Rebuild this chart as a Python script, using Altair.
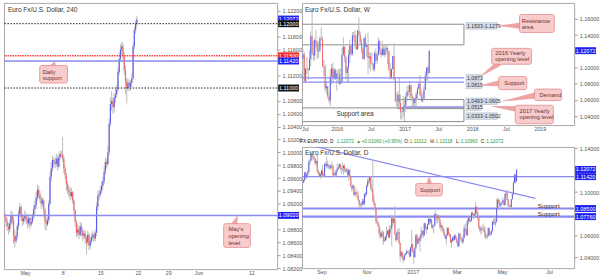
import altair as alt
import pandas as pd

FONT = "Liberation Sans"
BLUE = "#5d5df0"
RED = "#f06a6a"
WICK = "#bcbcbc"
LINE_BLUE = "#8a8af2"
TAG_BLUE = "#2020f0"
TAG_RED = "#f52525"
TAG_BLACK = "#111111"
CALLOUT_FILL = "#f8cccc"
CALLOUT_STROKE = "#e38c8c"
CALLOUT_TEXT = "#6e2e2e"
RANGE_FILL = "#d6dee8"

LW, LH = 275, 268
RW, RH1, RH2 = 274, 123, 122

# ---------------- 4h data (Apr 26 - May 19 2017, 6 candles / day) ----------------
h4_first_open = 1.0925
h4_close = [
    1.0915, 1.0905, 1.0898, 1.0892, 1.0885, 1.0880,
    1.0890, 1.0902, 1.0895, 1.0870, 1.0862, 1.0870,
    1.0885, 1.0905, 1.0915, 1.0900, 1.0893, 1.0897,
    1.0902, 1.0895, 1.0890, 1.0898, 1.0888, 1.0892,
    1.0900, 1.0912, 1.0918, 1.0930, 1.0942, 1.0935,
    1.0928, 1.0920, 1.0925, 1.0910, 1.0892, 1.0888,
    1.0895, 1.0920, 1.0962, 1.0975, 1.0988, 1.0985,
    1.0982, 1.0990, 1.0978, 1.0992, 1.0998, 1.0998,
    1.0990, 1.0975, 1.0965, 1.0950, 1.0942, 1.0938,
    1.0932, 1.0938, 1.0925, 1.0910, 1.0892, 1.0875,
    1.0880, 1.0872, 1.0885, 1.0878, 1.0870, 1.0874,
    1.0866, 1.0860, 1.0872, 1.0855, 1.0862, 1.0868,
    1.0872, 1.0866, 1.0875, 1.0915, 1.0932, 1.0935,
    1.0940, 1.0948, 1.0955, 1.0970, 1.0985, 1.0982,
    1.1000, 1.1045, 1.1075, 1.1080, 1.1070, 1.1085,
    1.1090, 1.1098, 1.1125, 1.1145, 1.1160, 1.1165,
    1.1150, 1.1128, 1.1110, 1.1100, 1.1108, 1.1102,
    1.1108, 1.1115, 1.1165, 1.1190, 1.1200, 1.1207,
]
h4_high = [
    1.0930, 1.0920, 1.0910, 1.0902, 1.0898, 1.0890,
    1.0895, 1.0910, 1.0908, 1.0900, 1.0880, 1.0875,
    1.0890, 1.0910, 1.0922, 1.0918, 1.0905, 1.0902,
    1.0910, 1.0906, 1.0900, 1.0905, 1.0900, 1.0898,
    1.0905, 1.0918, 1.0925, 1.0938, 1.0950, 1.0948,
    1.0940, 1.0932, 1.0930, 1.0928, 1.0915, 1.0898,
    1.0900, 1.0925, 1.0970, 1.0985, 1.0995, 1.0992,
    1.0992, 1.0998, 1.0995, 1.0998, 1.1003, 1.1002,
    1.1024, 1.0995, 1.0980, 1.0968, 1.0955, 1.0948,
    1.0945, 1.0945, 1.0940, 1.0928, 1.0912, 1.0895,
    1.0888, 1.0885, 1.0892, 1.0890, 1.0882, 1.0880,
    1.0878, 1.0870, 1.0878, 1.0875, 1.0868, 1.0874,
    1.0878, 1.0876, 1.0880, 1.0922, 1.0940, 1.0942,
    1.0948, 1.0955, 1.0962, 1.0978, 1.0992, 1.0990,
    1.1010, 1.1052, 1.1085, 1.1095, 1.1085, 1.1092,
    1.1098, 1.1105, 1.1132, 1.1155, 1.1168, 1.1172,
    1.1170, 1.1155, 1.1135, 1.1115, 1.1115, 1.1112,
    1.1112, 1.1122, 1.1170, 1.1195, 1.1205, 1.1212,
]
h4_low = [
    1.0908, 1.0898, 1.0890, 1.0884, 1.0878, 1.0872,
    1.0876, 1.0885, 1.0888, 1.0858, 1.0852, 1.0858,
    1.0865, 1.0880, 1.0900, 1.0893, 1.0885, 1.0888,
    1.0892, 1.0888, 1.0882, 1.0885, 1.0880, 1.0884,
    1.0888, 1.0896, 1.0905, 1.0912, 1.0925, 1.0928,
    1.0922, 1.0912, 1.0915, 1.0900, 1.0880, 1.0878,
    1.0885, 1.0890, 1.0918, 1.0955, 1.0970, 1.0978,
    1.0975, 1.0978, 1.0972, 1.0975, 1.0988, 1.0992,
    1.0985, 1.0968, 1.0958, 1.0940, 1.0935, 1.0930,
    1.0925, 1.0928, 1.0920, 1.0902, 1.0885, 1.0868,
    1.0870, 1.0865, 1.0868, 1.0870, 1.0862, 1.0865,
    1.0858, 1.0842, 1.0855, 1.0848, 1.0850, 1.0858,
    1.0862, 1.0860, 1.0862, 1.0870, 1.0910, 1.0925,
    1.0930, 1.0936, 1.0942, 1.0950, 1.0965, 1.0975,
    1.0978, 1.0995, 1.1040, 1.1065, 1.1060, 1.1062,
    1.1078, 1.1085, 1.1095, 1.1120, 1.1140, 1.1152,
    1.1140, 1.1120, 1.1090, 1.1076, 1.1095, 1.1096,
    1.1096, 1.1102, 1.1112, 1.1160, 1.1185, 1.1195,
]
h4_x_ticks = [18, 48, 78, 108, 132, 156, 198]
h4_x_labels = ["May", "8", "15", "22", "29", "Jun", "12"]
h4_y_ticks = [1.122, 1.118, 1.116, 1.112, 1.108, 1.106, 1.104, 1.102, 1.100,
              1.098, 1.096, 1.094, 1.092, 1.088, 1.086, 1.084, 1.082]
h4_dotted_black = [1.12000, 1.11000]
h4_dotted_red = [1.11500]
h4_blue_levels = [1.11420, 1.09020]
h4_tag_prices = [1.12072, 1.12000, 1.11500, 1.11420, 1.11000, 1.09020]
h4_tag_texts = ["1.12072", "1.12000", "1.11500", "1.11420", "1.11000", "1.09020"]
h4_tag_colors = [TAG_BLUE, TAG_BLACK, TAG_RED, TAG_BLUE, TAG_BLACK, TAG_BLUE]

# ---------------- weekly data (Jul 6 2015 - May 15 2017) ----------------
w_first_open = 1.1110
w_close = [
    1.1162, 1.0831, 1.0982, 1.0982, 1.0970, 1.1105, 1.1386, 1.1182, 1.1147, 1.1337,
    1.1296, 1.1199, 1.1210, 1.1358, 1.1348, 1.1016, 1.1004, 1.0741, 1.0768, 1.0645,
    1.0593, 1.0886, 1.0990, 1.0866, 1.0966, 1.0860,
    1.0925, 1.0915, 1.0797, 1.0830, 1.1155, 1.1255, 1.1130, 1.0932, 1.0997, 1.1154,
    1.1268, 1.1166, 1.1391, 1.1400, 1.1284, 1.1226, 1.1454, 1.1402, 1.1309, 1.1225,
    1.1107, 1.1365, 1.1254, 1.1277, 1.1116, 1.1137, 1.1052, 1.1043, 1.0977, 1.1175,
    1.1086, 1.1160, 1.1325, 1.1198, 1.1154, 1.1232, 1.1154, 1.1226, 1.1240, 1.1199,
    1.0970, 1.0885, 1.0982, 1.1140, 1.0853, 1.0588, 1.0587, 1.0665, 1.0562, 1.0450,
    1.0453, 1.0517,
    1.0533, 1.0644, 1.0702, 1.0698, 1.0783, 1.0640, 1.0615, 1.0560, 1.0620, 1.0670,
    1.0737, 1.0799, 1.0652, 1.0590, 1.0615, 1.0725, 1.0899, 1.0998, 1.0932, 1.1207,
]
w_high = [
    1.1215, 1.1190, 1.0998, 1.1129, 1.1000, 1.1214, 1.1440, 1.1714, 1.1332, 1.1360,
    1.1460, 1.1329, 1.1318, 1.1387, 1.1495, 1.1380, 1.1095, 1.1040, 1.0830, 1.0775,
    1.0690, 1.0981, 1.1043, 1.1060, 1.0990, 1.0990,
    1.0971, 1.0980, 1.0987, 1.0985, 1.1245, 1.1376, 1.1260, 1.1135, 1.1020, 1.1218,
    1.1342, 1.1278, 1.1438, 1.1438, 1.1465, 1.1398, 1.1460, 1.1616, 1.1444, 1.1350,
    1.1250, 1.1368, 1.1415, 1.1298, 1.1428, 1.1187, 1.1185, 1.1185, 1.1062, 1.1198,
    1.1234, 1.1190, 1.1366, 1.1341, 1.1245, 1.1327, 1.1285, 1.1283, 1.1278, 1.1256,
    1.1210, 1.1058, 1.0988, 1.1145, 1.1300, 1.0870, 1.0685, 1.0706, 1.0873, 1.0668,
    1.0469, 1.0651,
    1.0630, 1.0685, 1.0775, 1.0775, 1.0829, 1.0784, 1.0680, 1.0632, 1.0630, 1.0700,
    1.0760, 1.0828, 1.0906, 1.0720, 1.0690, 1.0778, 1.0950, 1.0999, 1.1022, 1.1212,
]
w_low = [
    1.0968, 1.0829, 1.0809, 1.0920, 1.0848, 1.0960, 1.1016, 1.1155, 1.1086, 1.1086,
    1.1246, 1.1105, 1.1122, 1.1183, 1.1331, 1.1005, 1.0896, 1.0705, 1.0676, 1.0617,
    1.0557, 1.0524, 1.0794, 1.0804, 1.0849, 1.0847,
    1.0710, 1.0804, 1.0778, 1.0795, 1.0809, 1.1145, 1.1067, 1.0860, 1.0810, 1.0822,
    1.1053, 1.1144, 1.1144, 1.1327, 1.1233, 1.1215, 1.1218, 1.1384, 1.1290, 1.1175,
    1.1098, 1.1095, 1.1250, 1.1131, 1.0912, 1.0989, 1.0953, 1.1029, 1.0952, 1.0952,
    1.1045, 1.1045, 1.1146, 1.1160, 1.1123, 1.1145, 1.1148, 1.1124, 1.1162, 1.1042,
    1.0965, 1.0851, 1.0859, 1.0970, 1.0850, 1.0569, 1.0518, 1.0557, 1.0505, 1.0364,
    1.0352, 1.0386,
    1.0340, 1.0454, 1.0580, 1.0658, 1.0619, 1.0590, 1.0521, 1.0494, 1.0494, 1.0524,
    1.0600, 1.0735, 1.0650, 1.0570, 1.0570, 1.0605, 1.0720, 1.0840, 1.0838, 1.0930,
]
w_x_ticks = [1.5, 26, 52, 78, 104, 130, 156, 182]
w_x_labels = ["Jul", "2016", "Jul", "2017", "Jul", "2018", "Jul", "2019"]
w_y_ticks = [1.16, 1.14, 1.10, 1.08, 1.06, 1.04]

# ---------------- daily data (Aug 1 2016 - May 19 2017) ----------------
d_first_open = 1.1175
d_close = [
    # Aug
    1.1160, 1.1220, 1.1150, 1.1130, 1.1085, 1.1090, 1.1110, 1.1180, 1.1135, 1.1160,
    1.1185, 1.1280, 1.1290, 1.1350, 1.1325, 1.1320, 1.1305, 1.1265, 1.1285, 1.1198,
    1.1180, 1.1145, 1.1160,
    # Sep
    1.1195, 1.1155, 1.1150, 1.1255, 1.1240, 1.1260, 1.1233, 1.1240, 1.1220, 1.1245,
    1.1240, 1.1155, 1.1170, 1.1155, 1.1190, 1.1210, 1.1225, 1.1255, 1.1215, 1.1215,
    1.1220, 1.1240,
    # Oct
    1.1210, 1.1200, 1.1205, 1.1155, 1.1200, 1.1145, 1.1055, 1.1035, 1.1060, 1.0975,
    1.1000, 1.0975, 1.0975, 1.0930, 1.0885, 1.0880, 1.0885, 1.0920, 1.0895, 1.0985,
    1.0980,
    # Nov
    1.1055, 1.1095, 1.1100, 1.1140, 1.1040, 1.1025, 1.0920, 1.0895, 1.0855, 1.0735,
    1.0720, 1.0690, 1.0625, 1.0590, 1.0630, 1.0630, 1.0550, 1.0555, 1.0590, 1.0615,
    1.0645, 1.0585,
    # Dec
    1.0665, 1.0665, 1.0765, 1.0720, 1.0755, 1.0615, 1.0560, 1.0630, 1.0635, 1.0535,
    1.0415, 1.0450, 1.0400, 1.0380, 1.0425, 1.0435, 1.0455, 1.0450, 1.0450, 1.0410,
    1.0495, 1.0520,
    # Jan
    1.0455, 1.0405, 1.0485, 1.0605, 1.0530, 1.0575, 1.0555, 1.0585, 1.0615, 1.0645,
    1.0605, 1.0715, 1.0665, 1.0660, 1.0705, 1.0755, 1.0730, 1.0750, 1.0680, 1.0695,
    1.0695, 1.0800,
    # Feb
    1.0765, 1.0760, 1.0785, 1.0750, 1.0680, 1.0695, 1.0670, 1.0640, 1.0600, 1.0575,
    1.0605, 1.0670, 1.0615, 1.0615, 1.0540, 1.0555, 1.0585, 1.0560, 1.0605, 1.0575,
    # Mar
    1.0545, 1.0505, 1.0620, 1.0580, 1.0565, 1.0545, 1.0580, 1.0670, 1.0655, 1.0605,
    1.0735, 1.0765, 1.0735, 1.0740, 1.0810, 1.0795, 1.0785, 1.0800, 1.0865, 1.0815,
    1.0765, 1.0675, 1.0650,
    # Apr
    1.0665, 1.0670, 1.0665, 1.0640, 1.0590, 1.0595, 1.0600, 1.0670, 1.0610, 1.0615,
    1.0645, 1.0730, 1.0715, 1.0715, 1.0725, 1.0855, 1.0930, 1.0905, 1.0875, 1.0895,
    # May
    1.0905, 1.0925, 1.0880, 1.0985, 1.0995, 1.0930, 1.0875, 1.0870, 1.0865, 1.0935,
    1.0980, 1.1085, 1.1157, 1.1101, 1.1207,
]
d_high = [
    1.1185, 1.1235, 1.1230, 1.1165, 1.1165, 1.1110, 1.1125, 1.1185, 1.1185, 1.1175,
    1.1200, 1.1290, 1.1300, 1.1366, 1.1350, 1.1340, 1.1335, 1.1310, 1.1295, 1.1342,
    1.1200, 1.1180, 1.1175,
    1.1205, 1.1250, 1.1175, 1.1265, 1.1275, 1.1327, 1.1285, 1.1255, 1.1255, 1.1255,
    1.1280, 1.1250, 1.1185, 1.1195, 1.1212, 1.1260, 1.1245, 1.1265, 1.1260, 1.1225,
    1.1275, 1.1250,
    1.1255, 1.1215, 1.1225, 1.1215, 1.1215, 1.1210, 1.1150, 1.1060, 1.1075, 1.1060,
    1.1010, 1.1040, 1.1000, 1.1008, 1.0930, 1.0905, 1.0905, 1.0940, 1.0940, 1.0988,
    1.1000,
    1.1070, 1.1125, 1.1125, 1.1145, 1.1145, 1.1075, 1.1300, 1.0975, 1.0905, 1.0845,
    1.0770, 1.0735, 1.0705, 1.0665, 1.0640, 1.0650, 1.0645, 1.0590, 1.0600, 1.0685,
    1.0655, 1.0660,
    1.0695, 1.0695, 1.0795, 1.0780, 1.0760, 1.0873, 1.0620, 1.0650, 1.0665, 1.0670,
    1.0535, 1.0470, 1.0450, 1.0415, 1.0440, 1.0445, 1.0475, 1.0465, 1.0465, 1.0480,
    1.0500, 1.0652,
    1.0530, 1.0470, 1.0495, 1.0615, 1.0620, 1.0585, 1.0595, 1.0610, 1.0685, 1.0655,
    1.0650, 1.0720, 1.0715, 1.0680, 1.0710, 1.0775, 1.0760, 1.0775, 1.0755, 1.0705,
    1.0705, 1.0810,
    1.0830, 1.0800, 1.0800, 1.0790, 1.0750, 1.0720, 1.0700, 1.0680, 1.0660, 1.0615,
    1.0610, 1.0680, 1.0680, 1.0630, 1.0620, 1.0570, 1.0600, 1.0600, 1.0620, 1.0610,
    1.0590, 1.0560, 1.0630, 1.0625, 1.0600, 1.0575, 1.0615, 1.0700, 1.0710, 1.0660,
    1.0745, 1.0775, 1.0770, 1.0750, 1.0820, 1.0825, 1.0805, 1.0820, 1.0906, 1.0870,
    1.0815, 1.0770, 1.0690,
    1.0690, 1.0685, 1.0715, 1.0690, 1.0685, 1.0615, 1.0625, 1.0680, 1.0675, 1.0635,
    1.0655, 1.0735, 1.0755, 1.0775, 1.0760, 1.0938, 1.0950, 1.0935, 1.0935, 1.0905,
    1.0915, 1.0950, 1.0935, 1.0985, 1.1000, 1.1023, 1.0940, 1.0890, 1.0885, 1.0935,
    1.0990, 1.1100, 1.1170, 1.1165, 1.1212,
]
d_low = [
    1.1140, 1.1150, 1.1135, 1.1105, 1.1045, 1.1070, 1.1080, 1.1100, 1.1125, 1.1120,
    1.1145, 1.1180, 1.1250, 1.1280, 1.1305, 1.1290, 1.1290, 1.1250, 1.1240, 1.1175,
    1.1155, 1.1140, 1.1123,
    1.1150, 1.1140, 1.1145, 1.1140, 1.1235, 1.1215, 1.1225, 1.1210, 1.1205, 1.1205,
    1.1215, 1.1145, 1.1150, 1.1140, 1.1135, 1.1180, 1.1205, 1.1215, 1.1200, 1.1165,
    1.1190, 1.1160,
    1.1185, 1.1175, 1.1180, 1.1145, 1.1105, 1.1130, 1.1045, 1.1005, 1.1020, 1.0970,
    1.0955, 1.0970, 1.0945, 1.0915, 1.0855, 1.0860, 1.0860, 1.0880, 1.0880, 1.0875,
    1.0950,
    1.0970, 1.1045, 1.1070, 1.1075, 1.1015, 1.1000, 1.0905, 1.0880, 1.0830, 1.0710,
    1.0705, 1.0675, 1.0605, 1.0569, 1.0585, 1.0590, 1.0518, 1.0545, 1.0555, 1.0560,
    1.0605, 1.0580,
    1.0580, 1.0620, 1.0505, 1.0690, 1.0715, 1.0610, 1.0545, 1.0555, 1.0610, 1.0525,
    1.0365, 1.0405, 1.0385, 1.0352, 1.0375, 1.0420, 1.0430, 1.0440, 1.0430, 1.0400,
    1.0415, 1.0460,
    1.0445, 1.0340, 1.0400, 1.0480, 1.0500, 1.0520, 1.0530, 1.0455, 1.0570, 1.0595,
    1.0580, 1.0600, 1.0655, 1.0620, 1.0655, 1.0700, 1.0700, 1.0710, 1.0665, 1.0660,
    1.0620, 1.0680,
    1.0735, 1.0715, 1.0715, 1.0740, 1.0660, 1.0640, 1.0650, 1.0620, 1.0595, 1.0570,
    1.0520, 1.0600, 1.0605, 1.0590, 1.0535, 1.0495, 1.0545, 1.0550, 1.0560, 1.0570,
    1.0525, 1.0495, 1.0500, 1.0565, 1.0545, 1.0530, 1.0525, 1.0580, 1.0640, 1.0600,
    1.0600, 1.0700, 1.0720, 1.0720, 1.0730, 1.0775, 1.0750, 1.0775, 1.0790, 1.0800,
    1.0745, 1.0665, 1.0640,
    1.0610, 1.0625, 1.0650, 1.0630, 1.0570, 1.0575, 1.0570, 1.0590, 1.0600, 1.0600,
    1.0610, 1.0640, 1.0700, 1.0700, 1.0685, 1.0820, 1.0850, 1.0890, 1.0850, 1.0860,
    1.0885, 1.0895, 1.0875, 1.0880, 1.0960, 1.0925, 1.0865, 1.0860, 1.0838, 1.0860,
    1.0930, 1.0975, 1.1085, 1.1076, 1.1096,
]
d_x_ticks = [23, 66, 110, 152, 195, 240]
d_x_labels = ["Sep", "Nov", "2017", "Mar", "May", "Jul"]
d_y_ticks = [1.14, 1.10, 1.06, 1.04]
d_levels = [1.11420, 1.08500, 1.07760]
d_trend_i = [12, 227]
d_trend_p = [1.1429, 1.0943]
d_tag_prices = [1.12072, 1.11420, 1.08500, 1.07760]
d_tag_texts = ["1.12072", "1.11420", "1.08500", "1.07760"]

TAG_PATH = "M-1,-0.333L1,-0.333L1,0.333L-1,0.333Z"


def label_expr(ticks, labels):
    expr = "''"
    for t, l in reversed(list(zip(ticks, labels))):
        expr = f"datum.value == {t} ? '{l}' : ({expr})"
    return expr


def y_axis(values):
    return alt.Axis(orient="right", values=values, format=".5f", title=None, tickSize=3,
                    labelPadding=2, domain=False, grid=False, labelFontSize=5.5,
                    labelColor="#555555", tickColor="#999999", labelFont=FONT,
                    labelFlush=False, labelOverlap=False)


def x_axis(values, labels):
    return alt.Axis(orient="bottom", values=values, labelExpr=label_expr(values, labels),
                    title=None, ticks=False, labelPadding=1, domain=False, grid=False,
                    labelFontSize=5.3, labelColor="#555555",
                    labelFont=FONT, labelFlush=False, labelOverlap=False)


class Panel:
    def __init__(self, xdom, ydom, xticks, xlabels, yticks, width):
        self.xs = alt.Scale(domain=xdom, nice=False, zero=False)
        self.ys = alt.Scale(domain=ydom, nice=False, zero=False)
        self.xax = x_axis(xticks, xlabels)
        self.yax = y_axis(yticks)
        self.W = width

    def X(self, f):
        return alt.X(f, type="quantitative", scale=self.xs, axis=self.xax)

    def Y(self, f):
        return alt.Y(f, type="quantitative", scale=self.ys, axis=self.yax)


def candles_df(first_open, closes, highs, lows):
    opens = [first_open] + list(closes[:-1])
    return pd.DataFrame({
        "i": list(range(len(closes))), "o": opens, "c": closes, "h": highs, "l": lows,
        "dir": ["up" if c >= o else "down" for o, c in zip(opens, closes)],
    })


def candle_layers(P, df, body_w):
    base = alt.Chart(df)
    wick = base.mark_rule(color=WICK, strokeWidth=1, clip=True).encode(
        x=P.X("i"), y=P.Y("l"), y2="h:Q")
    body = base.mark_rule(strokeWidth=body_w, clip=True).encode(
        x=P.X("i"), y=P.Y("o"), y2="c:Q",
        color=alt.Color("dir:N", scale=alt.Scale(domain=["up", "down"], range=[BLUE, RED]),
                        legend=None))
    return [wick, body]


def hlines(P, prices, color, width, dash=None):
    kw = dict(color=color, strokeWidth=width)
    if dash:
        kw["strokeDash"] = dash
    return alt.Chart(pd.DataFrame({"p": prices})).mark_rule(**kw).encode(y=P.Y("p"))


def seg_lines(P, x1, x2, prices, color, width):
    df = pd.DataFrame({"x1": x1, "x2": x2, "p": prices})
    return alt.Chart(df).mark_rule(color=color, strokeWidth=width, clip=True).encode(
        x=P.X("x1"), x2="x2:Q", y=P.Y("p"))


def tag_layers(P, prices, texts, colors):
    out = []
    for p, t, c in zip(prices, texts, colors):
        df = pd.DataFrame({"p": [p], "t": [t]})
        out.append(alt.Chart(df).mark_point(shape=TAG_PATH, size=441, filled=True, opacity=1,
                                            strokeWidth=0, color=c).encode(
            x=alt.value(P.W + 11.5), y=P.Y("p")))
        out.append(alt.Chart(df).mark_text(font=FONT, fontSize=5.5, align="center",
                                           baseline="middle", color="white").encode(
            x=alt.value(P.W + 11.5), y=P.Y("p"), text="t:N"))
    return out


def callout_layers(P, boxes, pointers, texts, size=5.8):
    bdf = pd.DataFrame(boxes, columns=["x1", "x2", "y1", "y2"])
    pdf = pd.DataFrame(pointers, columns=["id", "ord", "x", "y", "s"])
    tdf = pd.DataFrame(texts, columns=["x", "y", "t"])
    trail = alt.Chart(pdf).mark_trail(color="#eea5a5").encode(
        x=P.X("x"), y=P.Y("y"),
        size=alt.Size("s:Q", scale=None, legend=None), detail="id:N", order="ord:Q")
    rect = alt.Chart(bdf).mark_rect(fill=CALLOUT_FILL, stroke=CALLOUT_STROKE, strokeWidth=0.8,
                                    cornerRadius=2).encode(
        x=P.X("x1"), x2="x2:Q", y=P.Y("y1"), y2="y2:Q")
    txt = alt.Chart(tdf).mark_text(font=FONT, fontSize=size, align="left", baseline="middle",
                                   color=CALLOUT_TEXT).encode(
        x=P.X("x"), y=P.Y("y"), text="t:N")
    return [trail, rect, txt]


def plain_text(P, xs, ps, ts, size, align, color):
    df = pd.DataFrame({"x": xs, "p": ps, "t": ts})
    return alt.Chart(df).mark_text(font=FONT, fontSize=size, align=align, baseline="middle",
                                   color=color).encode(x=P.X("x"), y=P.Y("p"), text="t:N")


def title_text(t, x, y):
    return alt.Chart(pd.DataFrame({"t": [t]})).mark_text(
        font=FONT, fontSize=6.5, align="left", baseline="middle", color="#333333").encode(
        x=alt.value(x), y=alt.value(y), text="t:N")


# ================= LEFT: 4h =================
PL = Panel([1.42, 218.5], [1.08200 - 0.00015, 1.12323], h4_x_ticks, h4_x_labels, h4_y_ticks, LW)
h4_df = candles_df(h4_first_open, h4_close, h4_high, h4_low)
left_layers = []
left_layers += candle_layers(PL, h4_df, 1.2)
left_layers.append(hlines(PL, h4_dotted_black, "#222222", 1, [1.5, 1.5]))
left_layers.append(hlines(PL, h4_dotted_red, "#ff3b3b", 1.5, [1.5, 1]))
left_layers.append(hlines(PL, h4_blue_levels, LINE_BLUE, 1.5))
left_layers += callout_layers(
    PL,
    [(29.8, 51.9, 1.11077, 1.11350), (176.0, 197.2, 1.08523, 1.08892)],
    [("a", 0, 40.5, 1.1134, 6), ("a", 1, 41.9, 1.1141, 0.5),
     ("b", 0, 184.5, 1.0888, 6), ("b", 1, 187.1, 1.0902, 0.5)],
    [(32.2, 1.11251, "Daily"), (32.2, 1.11158, "support"),
     (179.8, 1.08808, "May's"), (179.8, 1.08700, "opening"), (179.8, 1.08592, "level")])
left_layers.append(title_text("Euro Fx/U.S. Dollar, 240", 4, 7))
left_layers += tag_layers(PL, h4_tag_prices, h4_tag_texts, h4_tag_colors)
left = alt.layer(*left_layers).properties(width=LW, height=LH)

# ================= TOP RIGHT: weekly =================
PW = Panel([-0.76, 208.4], [1.0290, 1.1796], w_x_ticks, w_x_labels, w_y_ticks, RW)
w_df = candles_df(w_first_open, w_close, w_high, w_low)
w_layers = []
box_df = pd.DataFrame({"x1": [-2, -2, 73], "x2": [123.7, 123.7, 123.7],
                       "y1": [1.1279, 1.0333, 1.0493], "y2": [1.1533, 1.0502, 1.0605]})
w_layers.append(alt.Chart(box_df).mark_rect(fill="white", fillOpacity=0, stroke="#8c8c8c",
                                            strokeWidth=1, clip=True).encode(
    x=PW.X("x1"), x2="x2:Q", y=PW.Y("y1"), y2="y2:Q"))
w_layers += candle_layers(PW, w_df, 1.0)
w_layers.append(seg_lines(PW, [-2, -2, 78], [123.7, 123.7, 123.7], [1.0873, 1.0819, 1.0515],
                          LINE_BLUE, 1.3))
rl_df = pd.DataFrame({
    "t": ["1.1533-1.1279", "1.0873", "1.0819", "1.0493-1.0605", "1.0515", "1.0333-1.0502"],
    "x1": [125.2] * 6,
    "x2": [149.3, 137.0, 137.0, 149.3, 137.0, 149.3],
    "p": [1.1512, 1.0873, 1.0780, 1.0583, 1.0510, 1.0400],
})
half = 0.0041
rl_df["y1"] = rl_df["p"] - half
rl_df["y2"] = rl_df["p"] + half
w_layers.append(alt.Chart(rl_df).mark_rect(fill=RANGE_FILL, stroke="#aab6c4", strokeWidth=0.5).encode(
    x=PW.X("x1"), x2="x2:Q", y=PW.Y("y1"), y2="y2:Q"))
w_layers.append(alt.Chart(rl_df).mark_text(font=FONT, fontSize=5.3, align="left", baseline="middle",
                                           color="#333333", dx=1).encode(
    x=PW.X("x1"), y=PW.Y("p"), text="t:N"))
w_layers.append(plain_text(PW, [40.0], [1.0428], ["Support area"], 6.5, "center", "#333333"))
w_layers += callout_layers(
    PW,
    [(166.4, 193.1, 1.1432, 1.1653), (145.0, 175.6, 1.1040, 1.1236), (150.4, 172.0, 1.0727, 1.0890),
     (177.9, 198.7, 1.0592, 1.0734), (163.1, 192.4, 1.0306, 1.0534)],
    [("r", 0, 166.8, 1.1515, 6), ("r", 1, 149.9, 1.1514, 0.5),
     ("y6", 0, 150.0, 1.1045, 6), ("y6", 1, 136.4, 1.0890, 0.5),
     ("s", 0, 151.0, 1.0805, 6), ("s", 1, 136.4, 1.0779, 0.5),
     ("d", 0, 178.5, 1.0655, 6), ("d", 1, 152.9, 1.0583, 0.5),
     ("y7", 0, 164.0, 1.0490, 6), ("y7", 1, 145.3, 1.0522, 0.5)],
    [(168.2, 1.1578, "Resistance"), (168.2, 1.1505, "area"),
     (147.8, 1.1180, "2016 Yearly"), (147.8, 1.1102, "opening level"),
     (154.7, 1.0810, "Support"), (181.7, 1.0663, "Demand"),
     (166.4, 1.0465, "2017 Yearly"), (166.4, 1.0387, "opening level")])
w_layers.append(title_text("Euro Fx/U.S. Dollar, W", 3, 7))
w_layers += tag_layers(PW, [1.12072], ["1.12072"], [TAG_BLUE])
top_right = alt.layer(*w_layers).properties(width=RW, height=RH1)

# ================= BOTTOM RIGHT: daily =================
PD = Panel([4.45, 263.9], [1.03045, 1.14136], d_x_ticks, d_x_labels, d_y_ticks, RW)
d_df = candles_df(d_first_open, d_close, d_high, d_low)
d_layers = []
d_layers.append(hlines(PD, [d_levels[0]], LINE_BLUE, 1.5))
d_layers.append(hlines(PD, d_levels[1:], LINE_BLUE, 2.2))
d_layers.append(alt.Chart(pd.DataFrame({"i": d_trend_i, "p": d_trend_p}))
                .mark_line(color=LINE_BLUE, strokeWidth=1.2, clip=True)
                .encode(x=PD.X("i"), y=PD.Y("p")))
d_layers += candle_layers(PD, d_df, 1.0)
d_layers += callout_layers(
    PD,
    [(112.9, 138.2, 1.0965, 1.1080)],
    [("s", 0, 125.7, 1.1075, 6), ("s", 1, 125.7, 1.1141, 0.5)],
    [(116.9, 1.1023, "Support")])
d_layers.append(plain_text(PD, [229.2, 229.2], [1.0874, 1.0802], ["Support", "Support"],
                           6.3, "left", "#222222"))
d_layers.append(title_text("Euro Fx/U.S. Dollar, D", 3, 6))
header_items = [("FX:EURUSD, D", 300, "#111111"), ("1.12072", 337, "#2b9a3a"),
                ("\u25b2", 356.5, "#2b9a3a"), ("+0.01060 (+0.95%)", 362, "#2b9a3a"),
                ("O:", 405, "#111111"), ("1.11012", 410.5, "#2b9a3a"),
                ("H:", 431, "#111111"), ("1.12118", 436.5, "#2b9a3a"),
                ("L:", 457, "#111111"), ("1.10960", 461.5, "#2b9a3a"),
                ("C:", 482, "#111111"), ("1.12072", 487.5, "#2b9a3a")]
for t, px, col in header_items:
    d_layers.append(alt.Chart(pd.DataFrame({"t": [t]})).mark_text(
        font=FONT, fontSize=4.8, align="left", baseline="middle", color=col).encode(
        x=alt.value(px - 302), y=alt.value(-5), text="t:N"))
d_layers += tag_layers(PD, d_tag_prices, d_tag_texts, [TAG_BLUE] * 4)
bottom_right = alt.layer(*d_layers).properties(width=RW, height=RH2)

right = alt.vconcat(top_right, bottom_right, spacing=22, bounds="flush")
chart = alt.hconcat(left, right, spacing=25, bounds="flush").properties(
    padding={"left": 2, "top": 1, "right": 0, "bottom": 0}, background="white"
).configure_view(stroke="#a8a8a8", strokeWidth=1)

chart.save("out.html", embed_options={"renderer": "svg", "actions": False})
